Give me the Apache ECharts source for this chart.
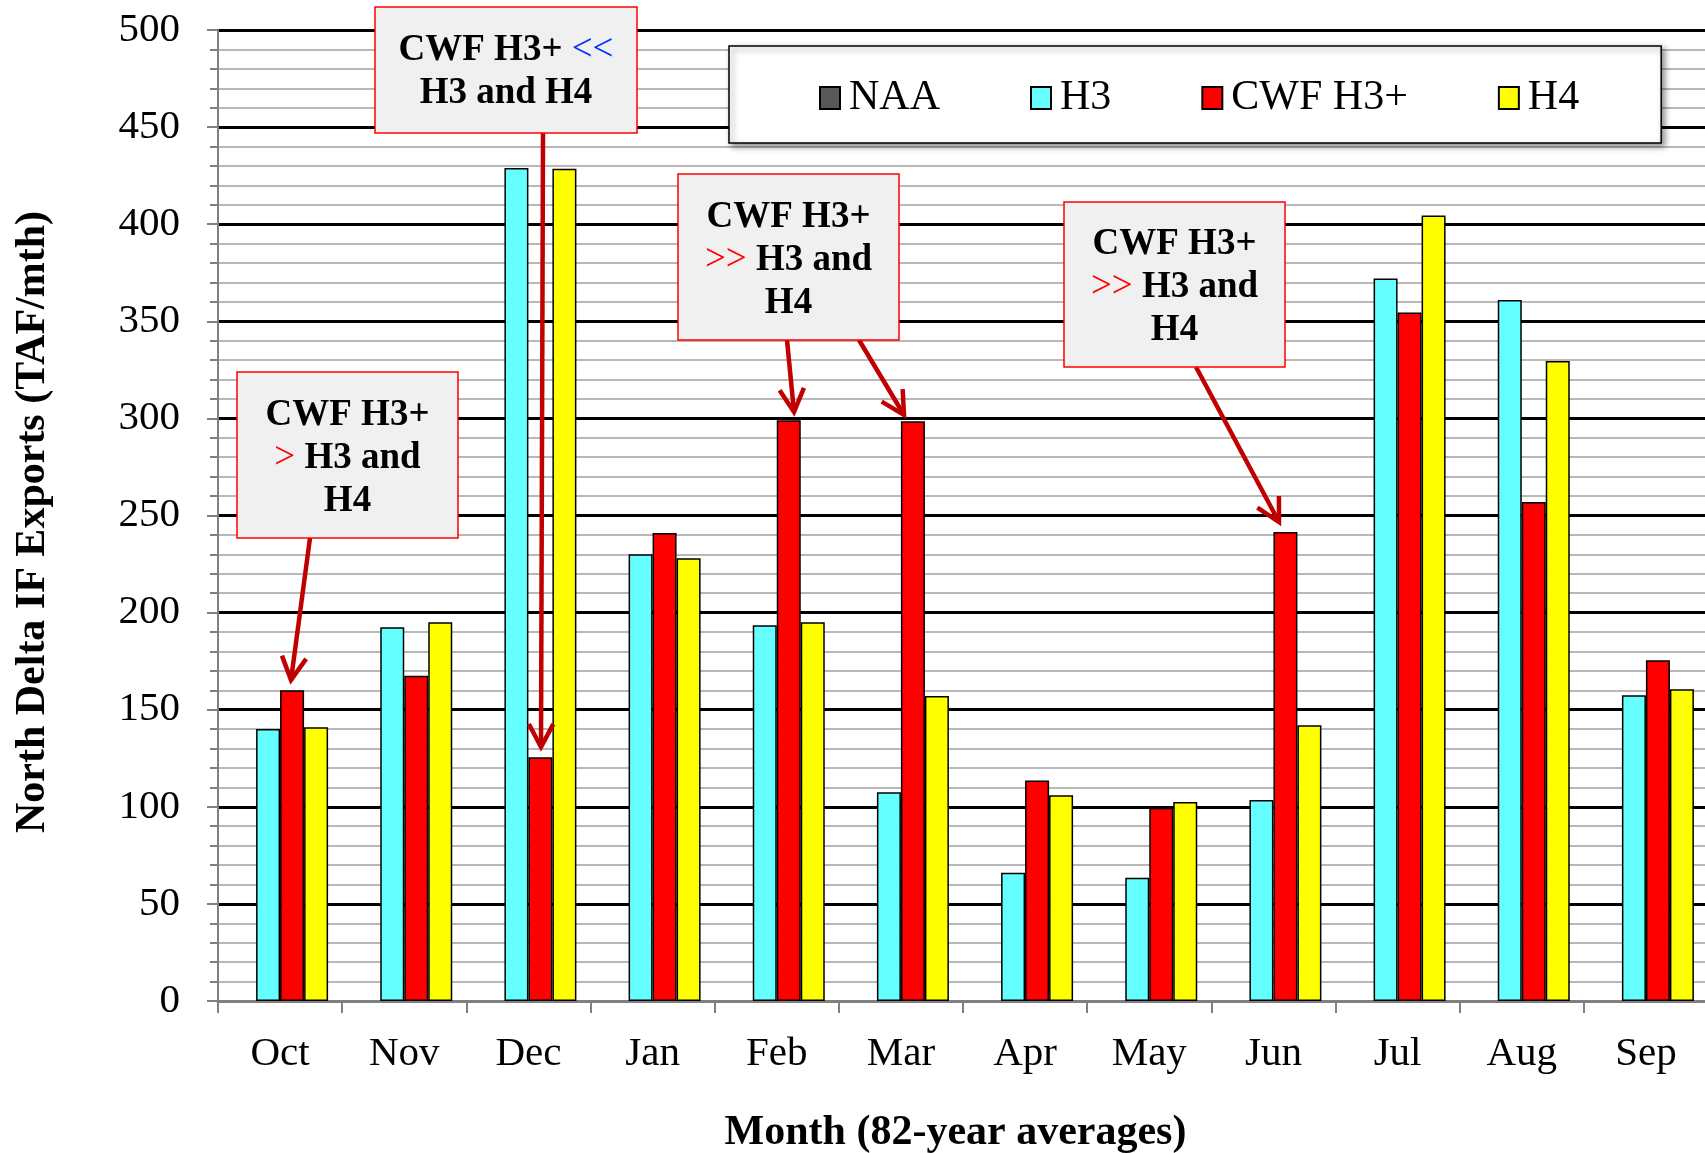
<!DOCTYPE html>
<html><head><meta charset="utf-8">
<script src="https://cdn.jsdelivr.net/npm/echarts@6/dist/echarts.min.js"></script>
<style>html,body{margin:0;padding:0;background:#fff}#c{width:1705px;height:1153px}</style>
</head><body><div id="c"></div>
<script>
const months = ['Oct','Nov','Dec','Jan','Feb','Mar','Apr','May','Jun','Jul','Aug','Sep'];
const naa = [null,null,null,null,null,null,null,null,null,null,null,null];
const h3  = [140, 192.5, 429, 230, 193.5, 107.5, 66, 63.5, 103.5, 372, 361, 157.5];
const cwf = [160, 167.5, 125.5, 241, 299, 298.5, 113.5, 99.5, 241.5, 354.5, 257, 175.5];
const h4  = [141, 195, 428.5, 228, 195, 157, 106, 102.5, 142, 404.5, 329.5, 160.5];
const seriesNames = ['NAA','H3','CWF H3+','H4'];
const seriesColors = ['#595959','#66FFFF','#FF0000','#FFFF00'];

const FF = '"Liberation Serif","Times New Roman",serif';
const chart = echarts.init(document.getElementById('c'), null, {renderer:'canvas'});

function arrow(x1,y1,x2,y2){
  const ang = Math.atan2(y2-y1, x2-x1);
  const L = 26, a = 28*Math.PI/180;
  const w1 = [x2 - L*Math.cos(ang-a), y2 - L*Math.sin(ang-a)];
  const w2 = [x2 - L*Math.cos(ang+a), y2 - L*Math.sin(ang+a)];
  const st = {stroke:'#C00000', lineWidth:4.5, fill:null, lineCap:'butt', lineJoin:'miter'};
  return [
    {type:'line', z:100, shape:{x1:x1,y1:y1,x2:x2,y2:y2}, style:st},
    {type:'polyline', z:100, shape:{points:[w1,[x2,y2],w2]}, style:st}
  ];
}
function box(x,y,w,h,text,dy){
  return [
    {type:'rect', z:100, shape:{x:x,y:y,width:w,height:h}, style:{fill:'#F0F0F0', stroke:'#FF0000', lineWidth:1.5}},
    {type:'text', z:101, x:x+w/2, y:y+h/2+dy, style:{text:text, fontSize:37, fontWeight:'bold', fontFamily:FF, fill:'#000',
      align:'center', verticalAlign:'middle', lineHeight:43,
      rich:{r:{fontSize:37, fontWeight:'normal', fontFamily:FF, fill:'#FF0000', lineHeight:43},
            b:{fontSize:37, fontWeight:'normal', fontFamily:FF, fill:'#0033FF', lineHeight:43}}}}
  ];
}

const graphics = [].concat(
  arrow(310,538,291,680),
  arrow(543,133,541,747),
  arrow(787,340,794,412),
  arrow(859,340,904,415),
  arrow(1196,367,1279,522),
  box(237,372,221,166,'CWF H3+\n{r|>} H3 and\nH4',3),
  box(375,7,262,126,'CWF H3+ {b|<<}\nH3 and H4',2),
  box(678,174,221,166,'CWF H3+\n{r|>>} H3 and\nH4',3),
  box(1064,202,221,165,'CWF H3+\n{r|>>} H3 and\nH4',3)
);

const dataSets = [naa,h3,cwf,h4];
chart.setOption({
  backgroundColor:'#fff',
  animation:false,
  grid:{left:218, right:-3, top:30, bottom:152, containLabel:false, outerBoundsMode:'none'},
  legend:{
    data:seriesNames, left:729, top:46, orient:'horizontal',
    padding:[31,82,24,90], itemGap:90, itemWidth:20, itemHeight:22,
    backgroundColor:'#fff', borderColor:'#000', borderWidth:1.5,
    shadowBlur:6, shadowColor:'rgba(0,0,0,0.45)', shadowOffsetX:3, shadowOffsetY:3,
    formatter: n => '{t|' + n + '}',
    textStyle:{fontSize:42, fontFamily:FF, color:'#000', lineHeight:40,
      rich:{t:{fontSize:42, fontFamily:FF, color:'#000', lineHeight:40, padding:[0,0,0,4]}}},
    icon:'rect'
  },
  xAxis:{
    type:'category', data:months, boundaryGap:true,
    axisLine:{show:true, lineStyle:{color:'#808080', width:3}},
    axisTick:{show:true, length:12, alignWithLabel:false, lineStyle:{color:'#808080', width:2}},
    axisLabel:{fontSize:41, fontFamily:FF, color:'#000', margin:33},
    splitLine:{show:false},
    name:'Month (82-year averages)', nameLocation:'middle', nameGap:111,
    nameTextStyle:{fontSize:42, fontWeight:'bold', fontFamily:FF, color:'#000', padding:[0,15,0,0]}
  },
  yAxis:{
    type:'value', min:0, max:500, interval:50,
    axisLine:{show:true, lineStyle:{color:'#808080', width:2}},
    axisTick:{show:true, length:11, lineStyle:{color:'#808080', width:2}},
    minorTick:{show:true, splitNumber:5, length:8, lineStyle:{color:'#808080', width:2}},
    splitLine:{show:true, lineStyle:{color:'#000', width:3}},
    minorSplitLine:{show:true, lineStyle:{color:'#B8B8B8', width:2}},
    axisLabel:{fontSize:41, fontFamily:FF, color:'#000', margin:38},
    name:'North Delta IF Exports (TAF/mth)', nameLocation:'middle', nameGap:164,
    nameTextStyle:{fontSize:42, fontWeight:'bold', fontFamily:FF, color:'#000', padding:[0,13,0,0]}
  },
  series: seriesNames.map((n,i)=>({
    name:n, type:'bar', data:dataSets[i], barWidth:24, barGap:'0%',
    itemStyle:{color:seriesColors[i], borderColor:'#000', borderWidth:1.5}
  })),
  graphic:graphics
});
</script></body></html>
